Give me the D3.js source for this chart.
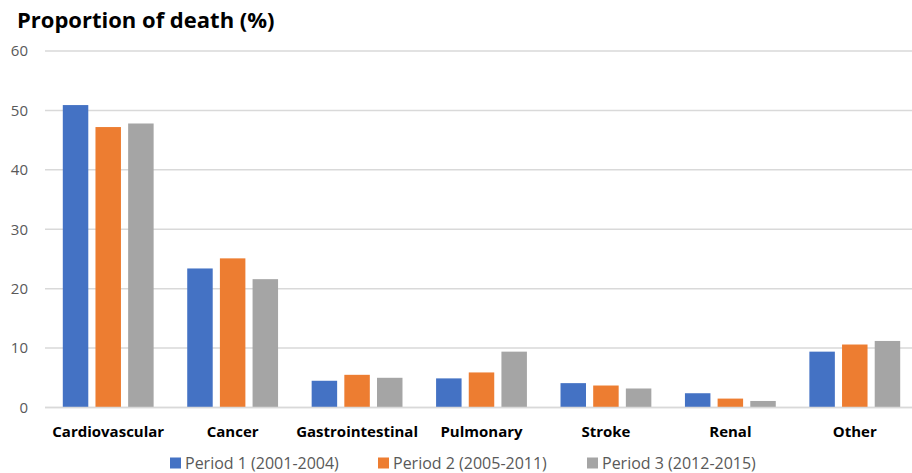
<!DOCTYPE html>
<html>
<head>
<meta charset="utf-8">
<script src="https://cdn.jsdelivr.net/npm/d3@7"></script>
<style>
  body { margin: 0; background: #fff; }
  svg { display: block; font-family: "Open Sans", sans-serif; }
</style>
</head>
<body>
<svg id="chart" width="912" height="473"></svg>
<script>
// dati
const categories = ['Cardiovascular', 'Cancer', 'Gastrointestinal', 'Pulmonary', 'Stroke', 'Renal', 'Other'];
const seriesNames = ['Period 1 (2001-2004)', 'Period 2 (2005-2011)', 'Period 3 (2012-2015)'];
const period1 = [50.9, 23.4, 4.5, 4.9, 4.1, 2.4, 9.4];
const period2 = [47.2, 25.1, 5.5, 5.9, 3.7, 1.5, 10.6];
const period3 = [47.8, 21.6, 5.0, 9.4, 3.2, 1.1, 11.2];
const yTicks = [0, 10, 20, 30, 40, 50, 60];
const colors = ['#4472C4', '#ED7D31', '#A5A5A5'];

const allSeries = [period1, period2, period3];
const svg = d3.select('#chart');
const fontFamily = '"Open Sans", sans-serif';

const x0 = d3.scaleBand()
    .domain(categories)
    .range([46, 917])
    .paddingInner(0.27)
    .paddingOuter(0.135);

const x1 = d3.scaleBand()
    .domain(seriesNames)
    .range([0, x0.bandwidth()])
    .paddingInner(0.22);

const y = d3.scaleLinear()
    .domain([0, 60])
    .range([407.5, 51]);

// griglia orizzontale
svg.append('g')
    .selectAll('line')
    .data(yTicks)
    .join('line')
    .attr('x1', 45)
    .attr('x2', 912)
    .attr('y1', d => y(d))
    .attr('y2', d => y(d))
    .style('stroke', '#D9D9D9')
    .style('stroke-width', 1.5);

// etichette asse Y
const yAxis = d3.axisLeft(y).tickValues(yTicks).tickSize(0).tickPadding(0);
svg.append('g')
    .attr('transform', 'translate(28,0)')
    .call(yAxis)
    .call(g => g.select('.domain').remove())
    .selectAll('text')
    .style('font-family', fontFamily)
    .style('font-size', '15px')
    .style('fill', '#595959');

// barre
const groups = svg.append('g')
    .selectAll('g')
    .data(categories)
    .join('g')
    .attr('transform', d => `translate(${x0(d)},0)`);

groups.selectAll('rect')
    .data((d, i) => seriesNames.map((s, j) => ({ series: s, value: allSeries[j][i], idx: j })))
    .join('rect')
    .attr('x', d => x1(d.series))
    .attr('width', x1.bandwidth())
    .attr('y', d => y(d.value))
    .attr('height', d => y(0) - y(d.value))
    .style('fill', d => colors[d.idx]);

// linea dello zero sopra le barre
svg.append('line')
    .attr('x1', 45).attr('x2', 912)
    .attr('y1', y(0)).attr('y2', y(0))
    .style('stroke', '#D9D9D9')
    .style('stroke-width', 1.5);

// etichette asse X
const xAxis = d3.axisBottom(x0).tickSize(0).tickPadding(0);
svg.append('g')
    .attr('transform', 'translate(0,426)')
    .call(xAxis)
    .call(g => g.select('.domain').remove())
    .selectAll('text')
    .attr('dy', '0.71em')
    .style('font-family', fontFamily)
    .style('font-size', '15px')
    .style('font-weight', 'bold')
    .style('fill', '#000');

// titolo
svg.append('text')
    .attr('x', 17)
    .attr('y', 28)
    .text('Proportion of death (%)')
    .style('font-size', '22px')
    .style('font-weight', 'bold')
    .style('fill', '#000');

// legenda
const legendX = [170, 378, 587];
const legend = svg.append('g')
    .selectAll('g')
    .data(seriesNames)
    .join('g')
    .attr('transform', (d, i) => `translate(${legendX[i]},463)`);

legend.append('rect')
    .attr('x', 0)
    .attr('y', -5.5)
    .attr('width', 11)
    .attr('height', 11)
    .style('fill', (d, i) => colors[i]);

legend.append('text')
    .attr('x', 15)
    .attr('dy', '0.35em')
    .text(d => d)
    .style('font-size', '16px')
    .style('fill', '#595959');
</script>
</body>
</html>
